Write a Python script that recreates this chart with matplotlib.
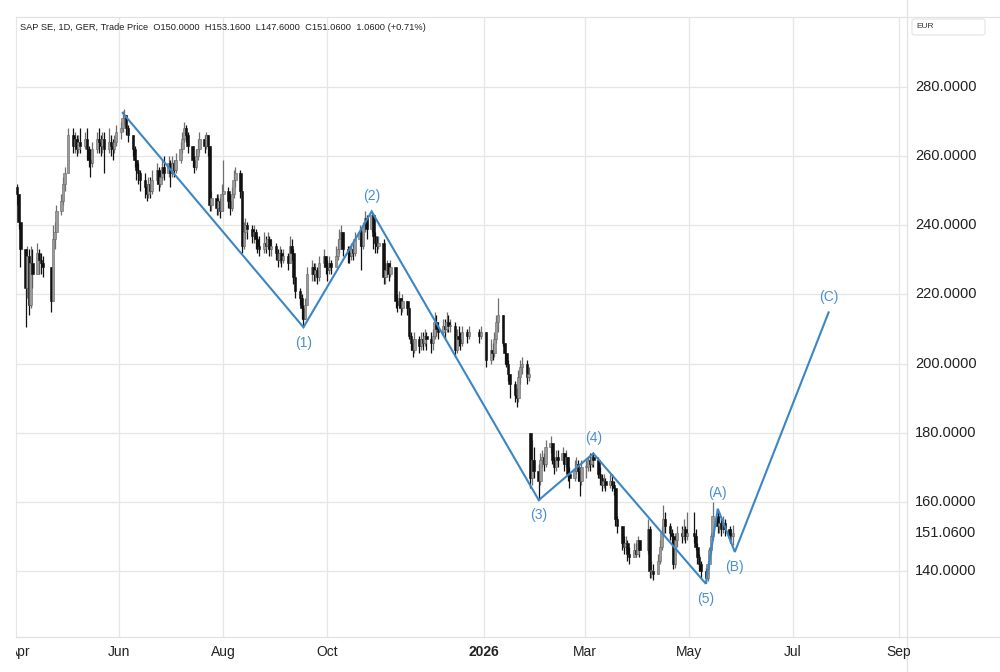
import matplotlib
matplotlib.use("Agg")
import matplotlib.pyplot as plt
import matplotlib.dates as mdates
from matplotlib.lines import Line2D
from matplotlib.patches import FancyBboxPatch
from matplotlib.transforms import Bbox, TransformedBbox, blended_transform_factory, offset_copy
import numpy as np
import pandas as pd

plt.rcParams['font.family'] = ['Liberation Sans', 'DejaVu Sans']

# trading calendar (Xetra holidays removed)
holidays = ["2025-04-18", "2025-04-21", "2025-05-01", "2025-12-24", "2025-12-25",
            "2025-12-26", "2025-12-31", "2026-01-01", "2026-04-03", "2026-04-06",
            "2026-05-01"]

# daily closes
closes = [
    249, 241, 233, 222, 231, 217, 229, 226, 232, 230, 229, 228, 218, 236, 238, 244, 247, 252, 255,       # Apr 25
    266, 263, 265, 262, 264, 263, 265, 262, 259, 258, 262, 265, 264, 263, 265, 262, 264, 263, 262, 264, 267,  # May
    268, 271, 272, 268, 266, 262, 259, 256, 255, 253, 251, 249, 252, 250, 253, 256, 252, 254, 257, 255, 258,  # Jun
    255, 258, 256, 259, 262, 265, 268, 266, 263, 259, 257, 260, 262, 265, 263, 266, 263, 246, 248, 245,
    247, 244, 249,                                                                                        # Jul
    250, 247, 245, 249, 253, 255, 250, 234, 238, 240, 239, 237, 238, 236, 234, 233, 235, 234, 236, 233, 234,  # Aug
    232, 230, 232, 230, 231, 229, 234, 232, 225, 221, 219, 216, 213, 217, 226, 228, 226, 227, 225, 229,
    231, 228,                                                                                             # Sep
    227, 229, 228, 231, 233, 236, 238, 233, 232, 231, 233, 232, 236, 238, 234, 240, 242, 239, 243, 237,
    235, 234, 235,                                                                                        # Oct
    225, 227, 229, 226, 228, 218, 217, 219, 216, 218, 216, 208, 206, 204, 207, 205, 207, 206, 208, 207,   # Nov
    206, 208, 212, 210, 209, 211, 210, 212, 211, 211, 204, 208, 207, 206, 209, 208, 209, 208, 209,        # Dec
    201, 204, 203, 207, 212, 214, 206, 203, 200, 197, 194, 191, 190, 196, 199, 200, 196, 197, 167, 172, 169,  # Jan 26
    166, 172, 173, 171, 176, 177, 172, 170, 173, 172, 174, 171, 173, 168, 167, 169, 171, 169, 166, 170,   # Feb
    170, 172, 171, 173, 172, 168, 167, 165, 166, 165, 166, 165, 164, 155, 153, 148, 147, 148, 145, 144,
    146, 145,                                                                                             # Mar
    149, 146, 152, 140, 140, 139, 143, 147, 151, 155, 153, 151, 150, 142, 149, 151, 150, 152, 150, 151,   # Apr
    150, 147, 144, 142, 140, 138, 142, 146, 150, 156, 153, 154, 152, 154, 152, 150, 150.00, 151.06,       # May
]

highs = [
    252, 247, 240, 227, 234, 233, 234, 233, 235, 233, 232, 231, 226, 240, 241, 246, 249, 254, 257,
    268, 268, 267, 266, 266, 268, 267, 268, 263, 262, 264, 267, 268, 266, 267, 267, 268, 266, 265, 266, 269,
    270, 273, 273.5, 272, 269, 266, 263, 259, 258, 256, 255, 252, 254, 254, 256, 258, 257, 256, 259, 260, 260,
    259, 260, 259, 261, 264, 267, 270, 269, 267, 263, 260, 262, 265, 267, 266, 267, 266, 256, 250, 249,
    249, 248, 252,
    259, 251, 249, 251, 256, 257, 256, 250, 241, 242, 241, 240, 240, 239, 237, 237, 238, 237, 238, 237, 236,
    235, 233, 234, 233, 233, 232, 237, 236, 233, 224, 222, 220, 217, 219, 228, 230, 229, 229, 228, 231,
    233, 231,
    230, 231, 230, 234, 236, 239, 240, 238, 234, 234, 235, 235, 238, 240, 239, 241, 244, 243, 244, 242,
    238, 237, 237,
    236, 229, 230, 229, 230, 228, 220, 221, 219, 220, 218, 215, 209, 207, 209, 208, 209, 209, 210, 209,
    209, 210, 215, 214, 212, 213, 213, 215, 214, 213, 212, 210, 211, 209, 211, 210, 211, 210, 211,
    208, 207, 206, 209, 214, 219, 213, 206, 203, 201, 197, 195, 193, 198, 201, 202, 201, 199, 180, 178, 176,
    171, 174, 175, 174, 178, 179, 177, 173, 175, 175, 176, 174, 175, 173, 170, 172, 173, 172, 170, 172,
    172, 173, 174, 174, 174.5, 173, 170, 168, 168, 167, 168, 168, 166, 164, 156, 153, 150, 150, 149, 147,
    148, 148,
    150, 149, 155, 153, 143, 142, 145, 149, 153, 159, 157, 154, 152, 151, 151, 153, 153, 155, 153, 157,
    157, 152, 148, 145, 143, 141, 143, 147, 151, 160, 157, 156, 155, 156, 155, 153, 152, 153.16,
]

lows = [
    246, 239, 228, 210.5, 219, 214, 216, 222, 227, 226, 226, 225, 215, 226, 233, 239, 243, 246, 250,
    255, 261, 261, 260, 261, 261, 262, 259, 257, 254, 257, 261, 261, 260, 261, 255, 261, 260, 259, 261, 263,
    265, 267, 269, 266, 264, 260, 257, 253, 252, 250, 248, 247, 248, 248, 249, 252, 250, 251, 253, 253, 254,
    251, 254, 254, 255, 258, 261, 264, 264, 261, 257, 255, 256, 259, 261, 261, 262, 260, 244, 244, 243,
    243, 242, 245,
    244, 245, 243, 244, 248, 251, 248, 232, 233, 236, 236, 235, 235, 233, 232, 231, 232, 232, 233, 231, 231,
    230, 228, 229, 228, 229, 227, 229, 230, 223, 219, 217, 213, 210.6, 213, 217, 224, 224, 224, 223, 224,
    228, 226,
    224, 226, 226, 228, 230, 232, 234, 231, 229, 229, 230, 230, 231, 234, 227, 233, 238, 236, 238, 233,
    232, 232, 233,
    223, 223, 225, 224, 225, 216, 215, 216, 214, 215, 214, 207, 204, 202, 203, 203, 204, 204, 205, 204,
    203, 204, 207, 208, 207, 208, 207, 209, 209, 209, 202, 203, 205, 204, 205, 206, 207, 206, 207,
    199, 200, 201, 202, 206, 209, 205, 200, 199, 195, 190, 189, 187.5, 189, 194, 197, 194, 195, 164, 165, 167,
    160.5, 165, 170, 169, 170, 174, 171, 168, 169, 170, 171, 169, 170, 166, 164, 166, 168, 166, 161.6, 165,
    167, 169, 169, 170, 170, 167, 165, 163, 164, 163, 164, 163, 162, 153, 151, 146, 145, 146, 143, 142,
    144, 144,
    145, 144, 145, 138, 138, 137.5, 139, 142, 146, 150, 151, 149, 148, 140.5, 141, 147, 148, 149, 148, 149,
    148, 146, 142, 140, 138, 136.5, 137, 141, 145, 149, 151, 151, 150, 151, 150, 148, 148, 147.6,
]

first_open = 251.0
gap_opens = {"2026-01-28": 180.0}

# Elliott wave count drawn on the chart
wave_dates = ["2025-06-03", "2025-09-17", "2025-10-27", "2026-02-02", "2026-03-06",
              "2026-05-11", "2026-05-18", "2026-05-28", "2026-07-22"]
wave_prices = [272.5, 210.5, 244.0, 160.5, 174.0, 136.3, 158.0, 145.5, 214.8]
wave_labels = [None, "(1)", "(2)", "(3)", "(4)", "(5)", "(A)", "(B)", "(C)"]
wave_above = [None, False, True, False, True, False, True, False, True]

price_ticks = [140, 160, 180, 200, 220, 240, 260, 280]
last_price = 151.06
month_dates = ["2025-04-01", "2025-06-01", "2025-08-01", "2025-10-01", "2026-01-01",
               "2026-03-01", "2026-05-01", "2026-07-01", "2026-09-01"]
month_labels = ["Apr", "Jun", "Aug", "Oct", "2026", "Mar", "May", "Jul", "Sep"]
title = "SAP SE, 1D, GER, Trade Price  O150.0000  H153.1600  L147.6000  C151.0600  1.0600 (+0.71%)"

dates = pd.bdate_range("2025-04-02", "2026-05-27")
dates = dates[~dates.isin(pd.to_datetime(holidays))]
n = min(len(dates), len(closes), len(highs), len(lows))
dates = dates[:n]
c = np.array(closes[:n], float)
h = np.array(highs[:n], float)
l = np.array(lows[:n], float)
o = np.concatenate([[first_open], c[:-1]])
for d, v in gap_opens.items():
    o[dates.get_loc(pd.Timestamp(d))] = v
h = np.maximum(h, np.maximum(o, c))
l = np.minimum(l, np.minimum(o, c))
x = mdates.date2num(dates)

W, H = 1000, 672
fig = plt.figure(figsize=(W / 100, H / 100), dpi=100)
fig.patch.set_facecolor('white')
ax = fig.add_axes([16 / W, 1 - 637 / H, (907 - 16) / W, (637 - 17) / H])

x0 = mdates.date2num(pd.Timestamp("2025-04-02"))
ax.set_xlim(x0 - 0.6, x0 - 0.6 + 891 / 1.705)
ax.set_ylim(120.9, 300.25)

grid_c = '#e6e6e6'
for p in price_ticks:
    ax.axhline(p, color=grid_c, lw=0.9, zorder=0)
for d in month_dates[1:]:
    ax.axvline(mdates.date2num(pd.Timestamp(d)), color=grid_c, lw=0.9, zorder=0)

up = c >= o
wick_col = np.where(up, '#6f6f6f', '#111111')
ax.vlines(x, l, h, colors=wick_col, lw=0.9, zorder=2)
body = np.maximum(np.abs(c - o), 0.25)
ax.bar(x, body, bottom=np.minimum(o, c), width=1.5,
       color=np.where(up, '#9b9b9b', '#111111'),
       edgecolor=np.where(up, '#666666', '#111111'), lw=0.4, zorder=3)

wx = mdates.date2num(pd.to_datetime(wave_dates))
ax.plot(wx, wave_prices, color='#3b86c4', lw=1.5, zorder=4, solid_joinstyle='miter')
for xi, yi, lab, above in zip(wx, wave_prices, wave_labels, wave_above):
    if lab is None:
        continue
    ax.annotate(lab, (xi, yi), xytext=(0, 11 if above else -11), textcoords='offset points',
                ha='center', va='center', fontsize=10, color='#4a90cc', zorder=5)

for s in ['top', 'right', 'bottom']:
    ax.spines[s].set_visible(False)
ax.spines['left'].set_color(grid_c)
ax.set_xticks([])
ax.set_yticks([])

# frame lines of the chart pane
line_c = '#e2e2e2'
fig.add_artist(Line2D([16 / W, 1], [1 - 17 / H] * 2, color=line_c, lw=0.9, transform=fig.transFigure))
fig.add_artist(Line2D([16 / W, 1], [1 - 637 / H] * 2, color=line_c, lw=0.9, transform=fig.transFigure))
fig.add_artist(Line2D([907 / W] * 2, [0, 1], color=line_c, lw=0.9, transform=fig.transFigure))

# price axis on the right
ytrans = blended_transform_factory(fig.transFigure, ax.transData)
for p in price_ticks:
    fig.text(915 / W, p, f"{p:.4f}", transform=ytrans, fontsize=10.5, color='#222222', va='center')
fig.text(915 / W, last_price, f"{last_price:.4f}", transform=ytrans, fontsize=10.5,
         color='#222222', va='center')

# month labels, clipped at the left edge of the pane (first one is cut off)
xtrans = blended_transform_factory(ax.transData, fig.transFigure)
clip = TransformedBbox(Bbox([[16 / W, 0], [1, 1]]), fig.transFigure)
for i, (d, lab) in enumerate(zip(month_dates, month_labels)):
    tr = offset_copy(xtrans, fig=fig, x=4 if i == 0 else 0, units='dots')
    t = fig.text(mdates.date2num(pd.Timestamp(d)), 1 - 652 / H, lab, transform=tr,
                 ha='center', va='center', fontsize=10, color='#222222',
                 fontweight='bold' if lab == "2026" else 'normal')
    t.set_clip_box(clip)
    t.set_clip_on(True)

fig.text(20 / W, 1 - 27 / H, title, fontsize=6.7, color='#222222', va='center')

fig.add_artist(FancyBboxPatch((912 / W, 1 - 35 / H), 73 / W, 16 / H,
                              boxstyle='round,pad=0,rounding_size=0.003',
                              transform=fig.transFigure, fc='white', ec='#e4e4e4', lw=0.8))
fig.text(916 / W, 1 - 27 / H, "EUR", fontsize=6, color='#333333', va='center')

fig.savefig("out.png", dpi=100)
